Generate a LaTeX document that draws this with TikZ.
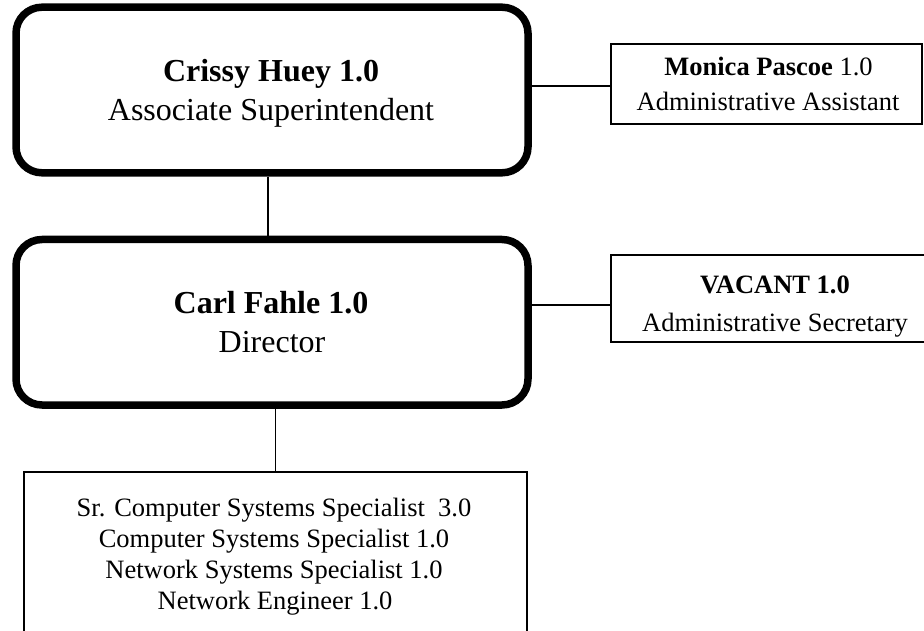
\documentclass[tikz,border=0pt]{standalone}
\usepackage{fontspec}
\setmainfont{Liberation Serif}
\begin{document}
\begin{tikzpicture}[x=1pt,y=-1pt,
  bigbox/.style={draw=black,line width=7.5pt,rounded corners=26pt,minimum width=512pt,inner sep=0pt},
  smallbox/.style={draw=black,line width=2pt,inner sep=0pt},
  bigtxt/.style={anchor=base,inner sep=0pt,font=\fontsize{32}{38}\selectfont},
  smalltxt/.style={anchor=base,inner sep=0pt,font=\fontsize{26.5}{32}\selectfont},
  conn/.style={draw=black,line width=1.6pt}]
\useasboundingbox (0,0) rectangle (924,631);
\fill[white] (0,0) rectangle (924,631);
% boxes
\node[bigbox,minimum height=165.6pt] (top) at (272,90) {};
\node[bigbox,minimum height=165.5pt] (dir) at (272,322.25) {};
\node[smallbox,minimum width=311pt,minimum height=80pt] (mon) at (766.5,84) {};
\node[smallbox,minimum width=320pt,minimum height=87pt] (vac) at (771,298.5) {};
\node[smallbox,minimum width=503pt,minimum height=168pt] (bot) at (275.5,556) {};
% texts
\node[bigtxt] (t1) at (271,82) {\textbf{Crissy Huey 1.0}};
\node[bigtxt] (t2) at (271,121) {Associate Superintendent};
\node[bigtxt] (d1) at (271,313) {\textbf{Carl Fahle 1.0}};
\node[bigtxt] (d2) at (272,352) {Director};
\node[smalltxt] (m1) at (768.5,75.5) {\textbf{Monica Pascoe} 1.0};
\node[smalltxt] (m2) at (768,111) {Administrative Assistant};
\node[smalltxt] (v1) at (775,294) {\textbf{VACANT 1.0}};
\node[smalltxt] (v2) at (775,331) {Administrative Secretary};
\node[smalltxt] (b1) at (274,516) {Sr. Computer Systems Specialist \ 3.0};
\node[smalltxt] (b2) at (274,547) {Computer Systems Specialist 1.0};
\node[smalltxt] (b3) at (274,578) {Network Systems Specialist 1.0};
\node[smalltxt] (b4) at (275,609) {Network Engineer 1.0};
% connectors
\coordinate (mw) at ([yshift=-2pt]mon.west);
\coordinate (vw) at ([yshift=-6.5pt]vac.west);
\draw[conn] ([xshift=-4pt]top.south) -- ([xshift=-4pt]dir.north);
\draw[conn] (dir.south -| bot.north) -- (bot.north);
\draw[conn] (top.east |- mw) -- (mw);
\draw[conn] (dir.east |- vw) -- (vw);
\end{tikzpicture}
\end{document}
